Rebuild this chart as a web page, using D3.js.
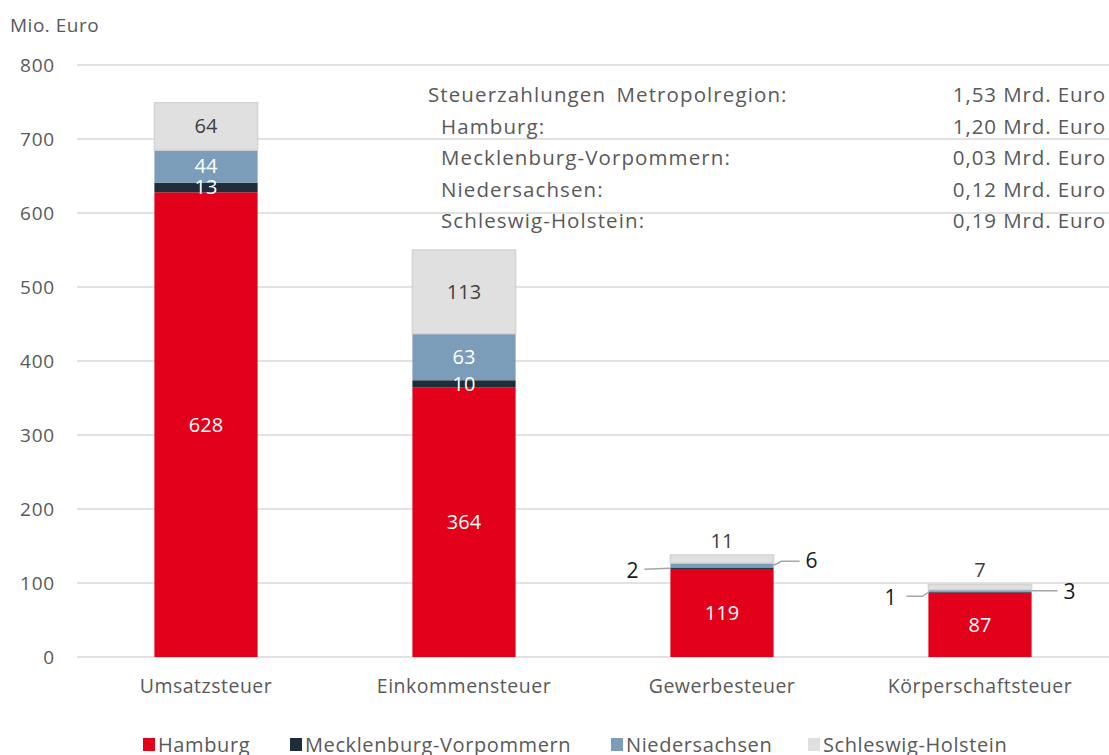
<!DOCTYPE html>
<html>
<head>
<meta charset="utf-8">
<script src="https://cdn.jsdelivr.net/npm/d3@7"></script>
<style>
  body { margin: 0; background: #fff; }
  svg text { font-family: "Open Sans", "Noto Sans", sans-serif; }
</style>
</head>
<body>
<div id="chart"></div>
<script>
// Daten
const categories = ['Umsatzsteuer', 'Einkommensteuer', 'Gewerbesteuer', 'Körperschaftsteuer'];
const seriesNames = ['Hamburg', 'Mecklenburg-Vorpommern', 'Niedersachsen', 'Schleswig-Holstein'];
const hamburg = [628, 364, 119, 87];
const mecklenburg = [13, 10, 2, 1];
const niedersachsen = [44, 63, 6, 3];
const schleswig = [64, 113, 11, 7];
const yTicks = [0, 100, 200, 300, 400, 500, 600, 700, 800];
const summaryLabels = ['Steuerzahlungen Metropolregion:', 'Hamburg:', 'Mecklenburg-Vorpommern:', 'Niedersachsen:', 'Schleswig-Holstein:'];
const summaryValues = ['1,53 Mrd. Euro', '1,20 Mrd. Euro', '0,03 Mrd. Euro', '0,12 Mrd. Euro', '0,19 Mrd. Euro'];

const colors = ['#e2001a', '#1f2d3a', '#7b9dba', '#e0e0e0'];
const labelColors = ['#ffffff', '#ffffff', '#ffffff', '#404040'];

const width = 1109, height = 755;
const margin = { top: 65, right: 0, bottom: 98, left: 77 };

const svg = d3.select('#chart').append('svg')
  .attr('width', width)
  .attr('height', height);

const x = d3.scaleBand()
  .domain(categories)
  .range([margin.left, width - margin.right])
  .paddingInner(0.6)
  .paddingOuter(0.3);

const y = d3.scaleLinear()
  .domain([0, 800])
  .range([height - margin.bottom, margin.top]);

// Tabelle für den Stack
const table = categories.map((c, i) => ({
  cat: c,
  'Hamburg': hamburg[i],
  'Mecklenburg-Vorpommern': mecklenburg[i],
  'Niedersachsen': niedersachsen[i],
  'Schleswig-Holstein': schleswig[i]
}));
const stacked = d3.stack().keys(seriesNames)(table);

// Gitterlinien
svg.append('g')
  .selectAll('line')
  .data(yTicks)
  .join('line')
  .attr('x1', margin.left)
  .attr('x2', width)
  .attr('y1', d => y(d))
  .attr('y2', d => y(d))
  .attr('stroke', '#d9d9d9')
  .attr('stroke-width', 1.3);

// Y-Achse
const yAxis = svg.append('g')
  .attr('transform', `translate(${margin.left - 22}, 0)`)
  .call(d3.axisLeft(y).tickValues(yTicks).tickSize(0).tickPadding(0));
yAxis.select('.domain').remove();
yAxis.selectAll('text')
  .style('font-size', '19px')
  .style('letter-spacing', '0.8px')
  .attr('fill', '#595959');

svg.append('text')
  .attr('x', 10)
  .attr('y', 32)
  .style('font-size', '19px')
  .style('letter-spacing', '0.5px')
  .attr('fill', '#595959')
  .text('Mio. Euro');

// X-Achse
const xAxis = svg.append('g')
  .attr('transform', `translate(0, ${y(0)})`)
  .call(d3.axisBottom(x).tickSize(0).tickPadding(22));
xAxis.select('.domain').remove();
xAxis.selectAll('text')
  .style('font-size', '19.5px')
  .style('letter-spacing', '0.5px')
  .attr('fill', '#595959');

// Balken
const layers = svg.append('g')
  .selectAll('g')
  .data(stacked)
  .join('g')
  .attr('fill', (d, i) => colors[i]);

layers.selectAll('rect')
  .data(d => d)
  .join('rect')
  .attr('x', d => x(d.data.cat))
  .attr('width', x.bandwidth())
  .attr('y', d => y(d[1]))
  .attr('height', d => y(d[0]) - y(d[1]))
  .attr('stroke', function() {
    return d3.select(this.parentNode).datum().key === 'Schleswig-Holstein' ? '#d4d4d4' : 'none';
  })
  .attr('stroke-width', 1.5);

// Beschriftungen innerhalb der Balken (nur große Segmente)
stacked.forEach((layer, si) => {
  layer.forEach((d, ci) => {
    const v = d[1] - d[0];
    if (ci >= 2 && si > 0) return;
    svg.append('text')
      .attr('x', x(d.data.cat) + x.bandwidth() / 2)
      .attr('y', (y(d[0]) + y(d[1])) / 2 + 7)
      .attr('text-anchor', 'middle')
      .style('font-size', '20px')
      .attr('fill', labelColors[si])
      .text(v);
  });
});

// Beschriftungen kleiner Balken mit Führungslinien
const calloutColor = '#a6a6a6';
const calloutText = '#1a1a1a';
[2, 3].forEach(ci => {
  const bx = x(categories[ci]);
  const bw = x.bandwidth();
  const mv = stacked[1][ci], ns = stacked[2][ci], sh = stacked[3][ci];

  // Schleswig-Holstein oben
  svg.append('text')
    .attr('x', bx + bw / 2)
    .attr('y', y(sh[1]) - 7)
    .attr('text-anchor', 'middle')
    .style('font-size', '20px')
    .attr('fill', '#404040')
    .text(sh[1] - sh[0]);

  // Mecklenburg-Vorpommern links
  const mvY = y((mv[0] + mv[1]) / 2);
  const lx = bx - 26;
  svg.append('path')
    .attr('d', ci === 2
      ? `M${bx},${mvY} L${lx},${mvY + 1}`
      : `M${bx},${mvY} L${bx - 6},${mvY + 4} L${lx + 4},${mvY + 4}`)
    .attr('fill', 'none')
    .attr('stroke', calloutColor)
    .attr('stroke-width', 1.5);
  svg.append('text')
    .attr('x', lx - 6)
    .attr('y', mvY + (ci === 2 ? 10 : 13))
    .attr('text-anchor', 'end')
    .style('font-size', '21px')
    .attr('fill', calloutText)
    .text(mv[1] - mv[0]);

  // Niedersachsen rechts
  const nsY = y((ns[0] + ns[1]) / 2);
  const rx = bx + bw + 26;
  svg.append('path')
    .attr('d', ci === 2
      ? `M${bx + bw},${nsY} L${bx + bw + 8},${nsY - 4} L${rx},${nsY - 4}`
      : `M${bx + bw},${nsY} L${rx},${nsY}`)
    .attr('fill', 'none')
    .attr('stroke', calloutColor)
    .attr('stroke-width', 1.5);
  svg.append('text')
    .attr('x', rx + 6)
    .attr('y', nsY + (ci === 2 ? 3 : 8))
    .attr('text-anchor', 'start')
    .style('font-size', '21px')
    .attr('fill', calloutText)
    .text(ns[1] - ns[0]);
});

// Zusammenfassung
const summary = svg.append('g');
summaryLabels.forEach((t, i) => {
  summary.append('text')
    .attr('x', i === 0 ? 428 : 441)
    .attr('y', 102 + i * 31.5)
    .style('font-size', '20.5px')
    .style('letter-spacing', '1.1px')
    .style('word-spacing', i === 0 ? '4px' : '0px')
    .attr('fill', '#595959')
    .text(t);
  summary.append('text')
    .attr('x', 1106)
    .attr('y', 102 + i * 31.5)
    .attr('text-anchor', 'end')
    .style('font-size', '20.5px')
    .style('letter-spacing', '0.9px')
    .attr('fill', '#595959')
    .text(summaryValues[i]);
});

// Legende
const legendX = [143, 290, 611, 808];
const legend = svg.append('g')
  .selectAll('g')
  .data(seriesNames)
  .join('g')
  .attr('transform', (d, i) => `translate(${legendX[i]}, 738)`);
legend.append('rect')
  .attr('width', 12)
  .attr('height', 13)
  .attr('fill', (d, i) => colors[i]);
legend.append('text')
  .attr('x', 15)
  .attr('y', 14)
  .style('font-size', '20px')
  .style('letter-spacing', '0.6px')
  .attr('fill', '#595959')
  .text(d => d);
</script>
</body>
</html>
